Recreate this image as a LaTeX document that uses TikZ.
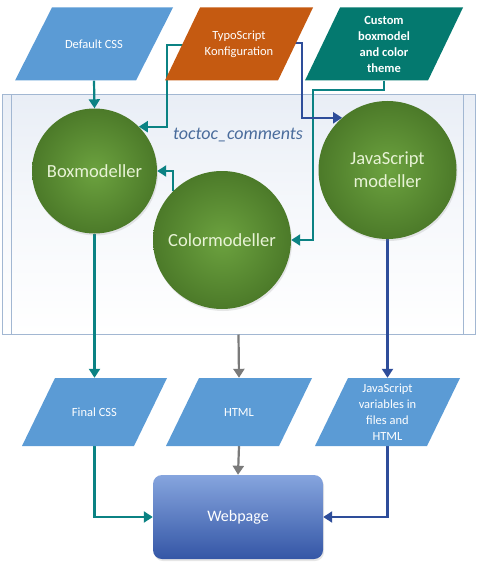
\documentclass[tikz,border=0pt]{standalone}
\usepackage{fontspec}
\setmainfont{Carlito}
\usetikzlibrary{arrows.meta,calc,shadows}

\pgfdeclarelayer{bg}
\pgfdeclarelayer{conn}
\pgfsetlayers{bg,conn,main}

\definecolor{parablue}{HTML}{5B9BD5}
\definecolor{paraorange}{HTML}{C55A11}
\definecolor{parateal}{HTML}{04796F}
\definecolor{arrteal}{HTML}{0B8283}
\definecolor{arrblue}{HTML}{2E4D9A}
\definecolor{arrgray}{HTML}{7A7A7A}
\definecolor{gdark}{HTML}{4C7A29}
\definecolor{glight}{HTML}{6CA23F}
\definecolor{gtext}{HTML}{E8F3D6}
\definecolor{contline}{HTML}{A2B7D2}
\definecolor{conttop}{HTML}{E9EEF6}
\definecolor{labelblue}{HTML}{4A6C9C}
\definecolor{webtop}{HTML}{86A5DE}
\definecolor{webbot}{HTML}{3456A6}

\tikzset{
  para/.style n args={4}{minimum width=#1, minimum height=#2, inner sep=0pt,
    text=white, align=center, font=\fontsize{12.5}{16}\selectfont,
    path picture={\fill[#4] (path picture bounding box.south west)
      -- ([xshift=-#3]path picture bounding box.south east)
      -- (path picture bounding box.north east)
      -- ([xshift=#3]path picture bounding box.north west) -- cycle;}},
  bubble/.style={circle, minimum size=#1, inner sep=0pt,
    inner color=glight, outer color=gdark, text=gtext, align=center,
    font=\fontsize{18.5}{23}\selectfont,
    drop shadow={opacity=0.18, shadow xshift=1pt, shadow yshift=-2pt}},
  conn/.style={line width=2.2pt, -{Triangle[length=9pt,width=11pt]}},
}

\begin{document}
\begin{tikzpicture}[x=1pt,y=-1pt]
\useasboundingbox (0,0) rectangle (501,564);

% container
\begin{pgfonlayer}{bg}
\node[draw=contline, line width=1pt, minimum width=473pt, minimum height=239pt,
  inner sep=0pt, top color=conttop, bottom color=white, middle color=white!60!conttop] (cont) at (238.5,214.5) {};
\draw[contline, line width=1pt] ($(cont.north west)+(10,0)$) -- ($(cont.south west)+(10,0)$);
\draw[contline, line width=1pt] ($(cont.north east)+(-12,0)$) -- ($(cont.south east)+(-12,0)$);
\end{pgfonlayer}

\node[text=labelblue, font=\itshape\fontsize{18}{22}\selectfont] (lbl) at (238,135) {toctoc\_comments};

% top inputs
\node[para={158pt}{73pt}{37pt}{parablue}] (dcss) at (94,44) {Default CSS};
\node[para={148pt}{73pt}{35pt}{paraorange}] (typo) at (239,44) {TypoScript\\Konfiguration};
\node[para={158pt}{73pt}{35pt}{parateal}, font=\bfseries\fontsize{12.5}{16}\selectfont] (custom) at (384,44) {Custom\\boxmodel\\and color\\theme};

% circles
\node[bubble=125pt] (box) at (94.5,171) {Boxmodeller};
\node[bubble=138pt] (color) at (222,240) {Colormodeller};
\node[bubble=138pt] (js) at (387.5,170) {JavaScript\\modeller};

% outputs
\node[para={145pt}{68pt}{33pt}{parablue}] (fcss) at (94.5,412) {Final CSS};
\node[para={146pt}{68pt}{33pt}{parablue}] (html) at (239,412) {HTML};
\node[para={145pt}{68pt}{33pt}{parablue}] (jsv) at (387.5,412) {JavaScript\\variables in\\files and\\HTML};

% webpage
\node[rounded corners=9pt, minimum width=170pt, minimum height=84pt, inner sep=0pt,
  top color=webtop, bottom color=webbot, text=white, font=\fontsize{16}{19}\selectfont,
  drop shadow={opacity=0.2, shadow xshift=1pt, shadow yshift=-2pt}] (web) at (238,517) {Webpage};

\coordinate (typoL) at (183,45);
\coordinate (typoR) at (295,43);

\begin{pgfonlayer}{conn}
\draw[conn, arrteal] (dcss.south) -- (box.north);
\draw[conn, arrteal] (typoL) -| ($(box.45)+(28,0)$) -- (box.45);
\draw[conn, arrteal] (custom.south) -- ++(0,9) -| ($(color.east)+(22,0)$) -- (color.east);
\draw[conn, arrblue] (typoR) -| ($(js.131)+(-40,0)$) -- (js.131);
\draw[conn, arrteal] (color.135) |- (box.east);
\draw[conn, arrteal] (box.south) -- (fcss.north);
\draw[conn, arrgray] (cont.south) -- (html.north);
\draw[conn, arrblue] (js.south) -- (jsv.north);
\draw[conn, arrteal] (fcss.south) |- (web.west);
\draw[conn, arrgray] (html.south) -- (web.north);
\draw[conn, arrblue] (jsv.south) |- (web.east);
\end{pgfonlayer}
\end{tikzpicture}
\end{document}
